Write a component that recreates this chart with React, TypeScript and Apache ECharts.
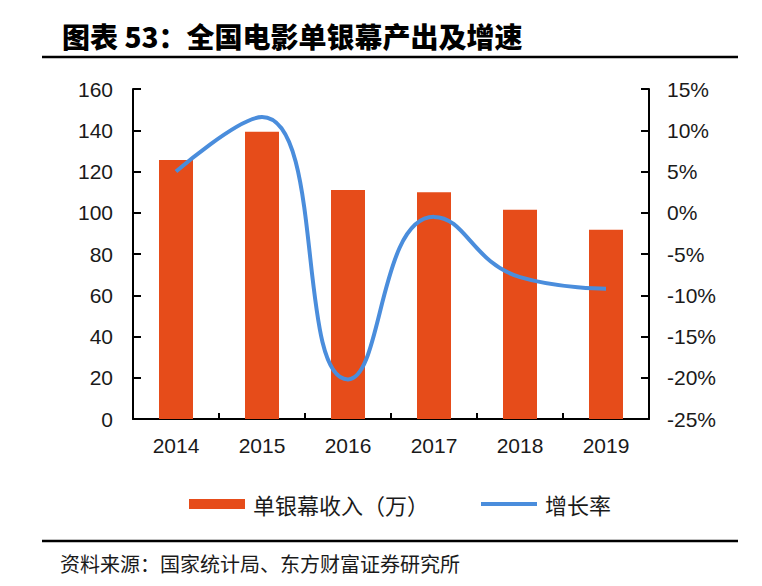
import React, { useEffect, useRef } from "react";
import * as echarts from "echarts";

const years = ["2014", "2015", "2016", "2017", "2018", "2019"];
const revenuePerScreen = [125.6, 139.3, 111, 110, 101.4, 91.7];
const growthRate = [5.0, 11.6, -20.2, -0.5, -7.8, -9.2];
const leftTicks = { min: 0, max: 160, interval: 20 };
const rightTicks = { min: -25, max: 15, interval: 5 };

const titleText = "图表 53：全国电影单银幕产出及增速";
const sourceText = "资料来源：国家统计局、东方财富证券研究所";
const barName = "单银幕收入（万）";
const lineName = "增长率";

const BAR_COLOR = "#E64C1A";
const LINE_COLOR = "#4A8DDC";
const TEXT_COLOR = "#1a1a1a";
const NUM_FONT = "'Liberation Sans', Arial, sans-serif";
const CJK_FONT = "'Noto Sans CJK SC', sans-serif";

export default function App() {
  const ref = useRef<HTMLDivElement>(null);
  useEffect(() => {
    if (!ref.current) return;
    const chart = echarts.init(ref.current, undefined, { renderer: "svg" });
    chart.setOption({
      animation: false,
      backgroundColor: "#ffffff",
      grid: { left: 133, right: 113, top: 89, bottom: 167, containLabel: false },
      legend: {
        left: 184,
        top: 488,
        itemWidth: 56,
        itemHeight: 10,
        itemGap: 52,
        itemStyle: { borderWidth: 0 },
        textStyle: { fontSize: 22, color: TEXT_COLOR, fontFamily: CJK_FONT, padding: [0, 0, 0, 3] },
        data: [
          { name: barName, icon: "rect" },
          { name: lineName, icon: "path://M0,0H56V4H0Z" },
        ],
      },
      xAxis: {
        type: "category",
        data: years,
        axisLine: { show: true, lineStyle: { color: "#000", width: 2 } },
        axisTick: { show: true, inside: true, length: 6, alignWithLabel: false, lineStyle: { color: "#000", width: 2 } },
        axisLabel: { color: TEXT_COLOR, fontSize: 21, fontFamily: NUM_FONT, margin: 16 },
        splitLine: { show: false },
      },
      yAxis: [
        {
          type: "value",
          position: "left",
          min: leftTicks.min,
          max: leftTicks.max,
          interval: leftTicks.interval,
          axisLine: { show: true, lineStyle: { color: "#000", width: 2 } },
          axisTick: { show: true, inside: true, length: 8, lineStyle: { color: "#000", width: 2 } },
          axisLabel: { color: TEXT_COLOR, fontSize: 21, fontFamily: NUM_FONT, margin: 20 },
          splitLine: { show: false },
        },
        {
          type: "value",
          position: "right",
          min: rightTicks.min,
          max: rightTicks.max,
          interval: rightTicks.interval,
          axisLine: { show: true, lineStyle: { color: "#000", width: 2 } },
          axisTick: { show: true, inside: true, length: 8, lineStyle: { color: "#000", width: 2 } },
          axisLabel: { color: TEXT_COLOR, fontSize: 21, fontFamily: NUM_FONT, margin: 18, formatter: "{value}%" },
          splitLine: { show: false },
        },
      ],
      series: [
        {
          name: barName,
          type: "bar",
          yAxisIndex: 0,
          data: revenuePerScreen,
          barWidth: 34,
          itemStyle: { color: BAR_COLOR },
        },
        {
          name: lineName,
          type: "line",
          yAxisIndex: 1,
          data: growthRate,
          smooth: 0.5,
          showSymbol: false,
          symbol: "none",
          lineStyle: { color: LINE_COLOR, width: 4 },
          itemStyle: { color: LINE_COLOR },
        },
      ],
      graphic: [
        {
          type: "text",
          x: 62,
          y: 36,
          style: {
            text: titleText,
            fill: "#000",
            fontSize: 28,
            fontWeight: 900,
            fontFamily: CJK_FONT,
            align: "left",
            verticalAlign: "middle",
            textAlign: "left",
            textVerticalAlign: "middle",
          },
        },
        {
          type: "line",
          shape: { x1: 42, y1: 57, x2: 738, y2: 57 },
          style: { stroke: "#000", lineWidth: 2.5 },
        },
        {
          type: "line",
          shape: { x1: 42, y1: 541, x2: 738, y2: 541 },
          style: { stroke: "#000", lineWidth: 2.5 },
        },
        {
          type: "text",
          x: 60,
          y: 563,
          style: {
            text: sourceText,
            fill: TEXT_COLOR,
            fontSize: 20,
            fontFamily: CJK_FONT,
            align: "left",
            verticalAlign: "middle",
            textAlign: "left",
            textVerticalAlign: "middle",
          },
        },
      ],
    });
    return () => chart.dispose();
  }, []);
  return (
    <div
      ref={ref}
      style={{ position: "absolute", left: 0, top: 0, width: 762, height: 586 }}
    />
  );
}
